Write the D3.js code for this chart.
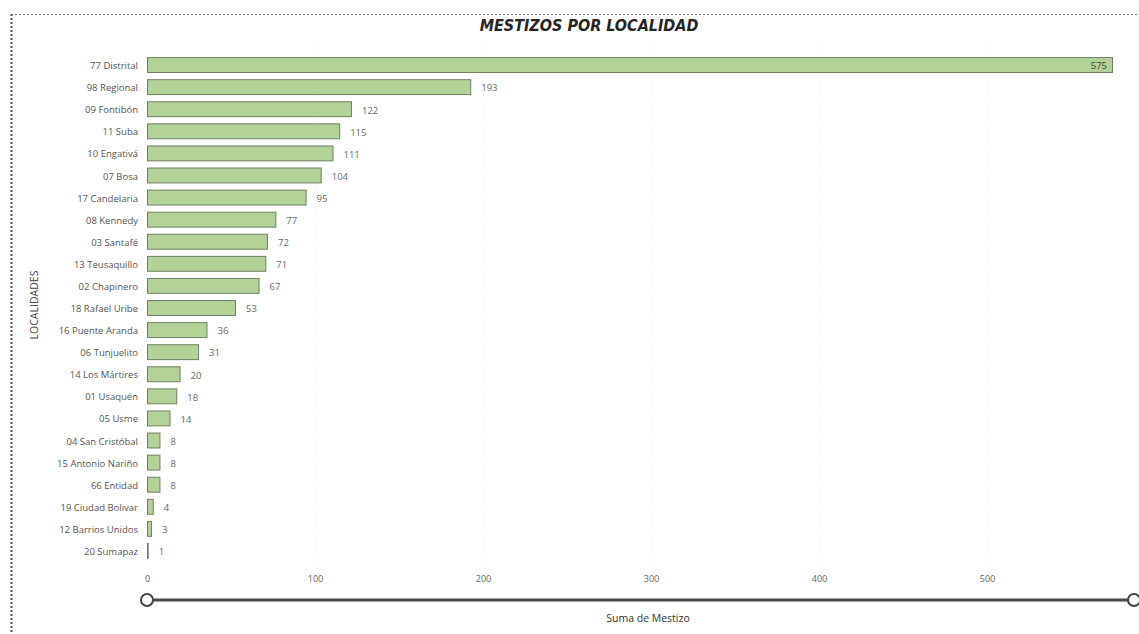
<!DOCTYPE html>
<html><head><meta charset="utf-8">
<script src="https://cdn.jsdelivr.net/npm/d3@7"></script>
<style>body{margin:0;background:#fff;}svg{display:block;}</style>
</head><body>
<svg id="c" width="1139" height="634"></svg>
<script>
const categories = ["77 Distrital","98 Regional","09 Fontibón","11 Suba","10 Engativá","07 Bosa","17 Candelaria","08 Kennedy","03 Santafé","13 Teusaquillo","02 Chapinero","18 Rafael Uribe","16 Puente Aranda","06 Tunjuelito","14 Los Mártires","01 Usaquén","05 Usme","04 San Cristóbal","15 Antonio Nariño","66 Entidad","19 Ciudad Bolivar","12 Barrios Unidos","20 Sumapaz"];
const values = [575,193,122,115,111,104,95,77,72,71,67,53,36,31,20,18,14,8,8,8,4,3,1];
const xTicks = [0,100,200,300,400,500];
const title = "MESTIZOS POR LOCALIDAD";
const xTitle = "Suma de Mestizo";
const yTitle = "LOCALIDADES";

const svg = d3.select("#c");
const W = 1139, H = 634;
const font = "'Open Sans', 'Noto Sans', sans-serif";

// border
svg.append("line").attr("x1",11).attr("x2",W).attr("y1",14.5).attr("y2",14.5)
  .attr("stroke","#777").attr("stroke-width",1).attr("stroke-dasharray","2,2");
svg.append("line").attr("x1",11.5).attr("x2",11.5).attr("y1",14).attr("y2",H)
  .attr("stroke","#555").attr("stroke-width",2).attr("stroke-dasharray","2,2");

const x = d3.scaleLinear().domain([0,500]).range([147,987]);
const y = d3.scaleBand().domain(categories).range([54,562]).paddingInner(0.28).paddingOuter(0.14);

// gridlines
svg.append("g").selectAll("line").data(xTicks.slice(1)).join("line")
  .attr("x1",d=>x(d)).attr("x2",d=>x(d)).attr("y1",44).attr("y2",566)
  .attr("stroke","#e4e4e4").attr("stroke-width",1).attr("stroke-dasharray","1,2");

// bars
svg.append("g").selectAll("rect").data(values).join("rect")
  .attr("x",x(0)+0.5).attr("y",(d,i)=>y(categories[i])+0.5)
  .attr("width",d=>Math.max(x(d)-x(0)-1,0.5)).attr("height",y.bandwidth()-1)
  .attr("fill","#b2d298").attr("stroke","#6f7f61").attr("stroke-width",1);

// value labels
svg.append("g").selectAll("text").data(values).join("text")
  .attr("x",(d,i)=> i===0 ? x(d)-6 : x(d)+10)
  .attr("y",(d,i)=>y(categories[i])+y.bandwidth()/2+1)
  .attr("dy","0.35em")
  .attr("text-anchor",(d,i)=> i===0 ? "end":"start")
  .attr("font-family",font).attr("font-size",9.5).attr("fill",(d,i)=> i===0 ? "#3d4a33" : "#666")
  .text(d=>d);

// y axis labels
const yAxis = d3.axisLeft(y).tickSize(0).tickPadding(8);
const gy = svg.append("g").attr("transform",`translate(${x(0)-1},1)`).call(yAxis);
gy.select(".domain").remove();
gy.selectAll("text").attr("font-family",font).attr("font-size",9.5).attr("fill","#555");

// x axis labels
const xAxis = d3.axisBottom(x).tickValues(xTicks).tickSize(0).tickPadding(0);
const gx = svg.append("g").attr("transform","translate(0,576)").call(xAxis);
gx.select(".domain").remove();
gx.selectAll("text").attr("font-family",font).attr("font-size",9).attr("fill","#666");

// scrollbar
svg.append("line").attr("x1",x(0)).attr("x2",1134).attr("y1",600).attr("y2",600)
  .attr("stroke","#4a4a4a").attr("stroke-width",3);
[x(0),1134].forEach(cx=>{
  svg.append("circle").attr("cx",cx).attr("cy",600).attr("r",6)
    .attr("fill","#fff").attr("stroke","#444").attr("stroke-width",2);
});

// titles
svg.append("text").attr("x",589).attr("y",31).attr("text-anchor","middle")
  .attr("font-family","'DejaVu Sans Condensed','DejaVu Sans',sans-serif")
  .attr("font-weight","bold").attr("font-style","italic").attr("font-size",16).attr("fill","#252525")
  .text(title);
svg.append("text").attr("x",648).attr("y",622).attr("text-anchor","middle")
  .attr("font-family",font).attr("font-size",10.5).attr("fill","#333").text(xTitle);
svg.append("text").attr("transform","translate(38,305) rotate(-90)").attr("text-anchor","middle")
  .attr("font-family",font).attr("font-size",10.5).attr("fill","#444").text(yTitle);
</script>
</body></html>
